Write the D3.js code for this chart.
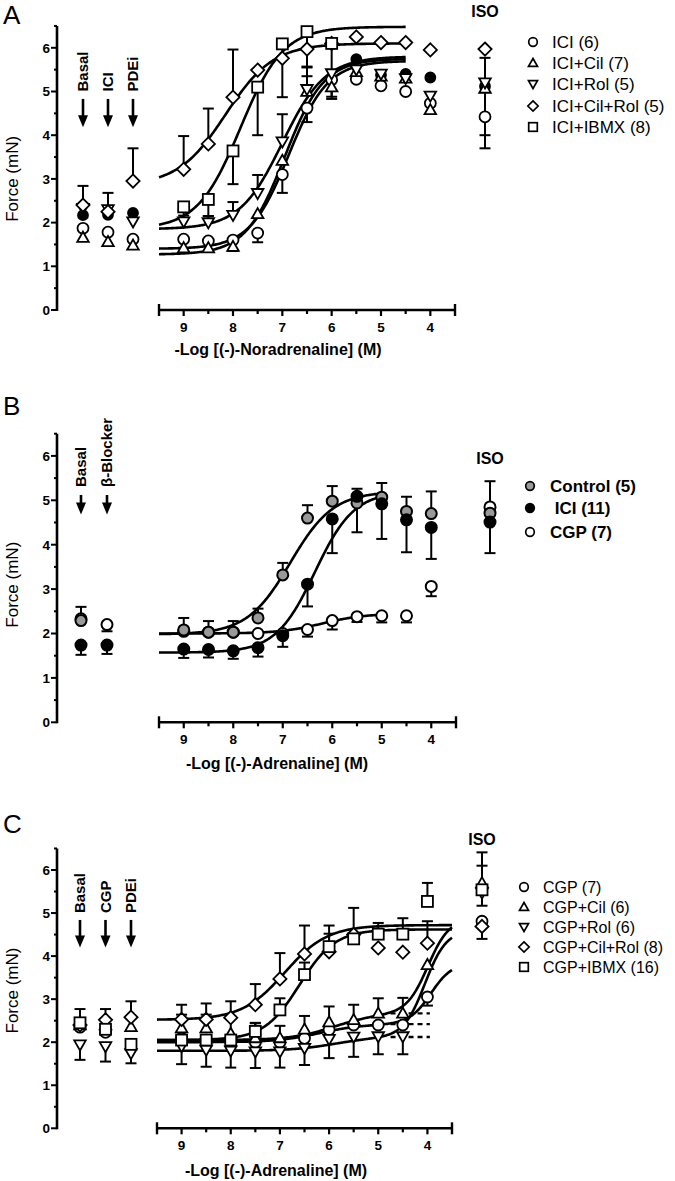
<!DOCTYPE html>
<html><head><meta charset="utf-8">
<script src="https://cdn.jsdelivr.net/npm/d3@7"></script>
<style>body{margin:0;background:#fff}svg{font-family:"Liberation Sans",Arial,sans-serif}</style>
</head><body><svg id="fig" width="675" height="1181"></svg>
<script>
// ---------- shared axis data ----------
const doses = [9, 8.5, 8, 7.5, 7, 6.5, 6, 5.5, 5, 4.5, 4];
const xTickValues = [9, 8, 7, 6, 5, 4];
const xMinorValues = [8.5, 7.5, 6.5, 5.5, 4.5];
const yTickValues = [0, 1, 2, 3, 4, 5, 6];
const yMinorValues = [0.5, 1.5, 2.5, 3.5, 4.5, 5.5, 6.5];
const isoLabel = "ISO";
const yTitle = "Force (mN)";

// ---------- Panel A ----------
const A_pre = ["Basal", "ICI", "PDEi"];
const A_title = "-Log [(-)-Noradrenaline] (M)";
const A_names = ["ICI (6)", "ICI+Cil (7)", "ICI+Rol (5)", "ICI+Cil+Rol (5)", "ICI+IBMX (8)"];
// order: Basal, ICI, PDEi, 9 ... 4, ISO
const A_ICI_vals    = [1.87, 1.78, 1.62, 1.62, 1.58, 1.60, 1.76, 3.10, 4.62, 5.27, 5.28, 5.13, 5.00, 4.73, 4.42];
const A_ICI_err     = [0, 0, 0, 0, 0, 0, -0.21, -0.42, -0.32, -0.44, 0, 0, 0, 0, -0.72];
const A_ICI_fit     = [1.40, 5.70, 6.87, 1.1];
const A_Cil_vals    = [1.66, 1.56, 1.48, 1.42, 1.42, 1.45, 2.20, 3.42, 5.00, 5.10, 5.45, 5.35, 5.30, 4.58, 5.07];
const A_Cil_err     = [0, 0, 0, 0, 0, -0.1, 0, 0, 0.35, 0, 0, 0, 0, 0, [0.7, 0.7]];
const A_Cil_fit     = [1.27, 5.75, 6.95, 1.1];
const A_Rol_vals    = [2.33, 2.30, 2.02, 2.02, 2.00, 2.17, 2.67, 3.85, 5.05, 5.41, 5.50, 5.40, 5.30, 4.90, 5.20];
const A_Rol_err     = [0, 0, 0, 0, 0.15, 0.30, 0.42, 0.63, 0.50, 0, 0, 0, 0, 0, -1.2];
const A_Rol_fit     = [1.85, 5.80, 7.0, 1.0];
const A_CilRol_vals = [2.40, 2.25, 2.95, 3.22, 3.80, 4.87, 5.49, 5.76, 5.97, 6.10, 6.25, 6.12, 6.12, 5.95, 5.97];
const A_CilRol_err  = [0.44, 0.43, 0.75, 0.76, 0.81, 1.09, 0, 0, 0, -1.22, 0, 0, 0, 0, 0];
const A_CilRol_fit  = [2.85, 6.10, 8.15, 0.9];
const A_IBMX_vals   = [null, null, null, 2.36, 2.53, 3.64, 5.10, 6.09, 6.37, 6.10, null, null, null, null, null];
const A_IBMX_err    = [0, 0, 0, -0.2, -0.38, -0.76, -1.1, -1.22, -0.8, 0, 0, 0, 0, 0, 0];
const A_IBMX_fit    = [1.85, 6.48, 7.85, 1.0];
const A_filled_vals = [2.17, 2.18, 2.22, null, null, null, null, null, null, null, 5.74, 5.38, 5.40, 5.32, 5.12];

// ---------- Panel B ----------
const B_pre = ["Basal", "β-Blocker"];
const B_title = "-Log [(-)-Adrenaline] (M)";
const B_names = ["Control (5)", " ICI (11)", "CGP (7)"];
const B_Control_vals = [2.29, null, 2.08, 2.03, 2.03, 2.35, 3.32, 4.60, 4.98, 4.94, 5.07, 4.75, 4.70, 4.71];
const B_Control_err  = [0.31, 0, 0.27, 0.25, 0.25, 0.21, 0.27, 0.29, 0.34, 0.32, 0.32, 0.33, 0.50, 0.72];
const B_Control_fit  = [1.98, 5.20, 6.85, 1.0];
const B_ICI_vals = [1.74, 1.74, 1.65, 1.64, 1.61, 1.68, 1.95, 3.11, 4.58, 5.09, 4.92, 4.56, 4.39, 4.51];
const B_ICI_err  = [-0.22, -0.2, -0.2, -0.18, -0.18, -0.2, -0.25, -0.5, -0.77, -0.81, -0.79, -0.73, -0.71, -0.7];
const B_ICI_fit  = [1.57, 5.20, 6.35, 1.1];
const B_CGP_vals = [2.33, 2.20, 2.05, 2.03, 2.03, 2.00, 2.00, 2.09, 2.29, 2.38, 2.40, 2.40, 3.06, 4.85];
const B_CGP_err  = [0, -0.15, 0, 0, 0, 0, 0, -0.16, -0.2, -0.12, -0.15, -0.15, -0.22, 0];
const B_CGP_fit  = [2.0, 2.45, 6.2, 1.0];

// ---------- Panel C ----------
const C_pre = ["Basal", "CGP", "PDEi"];
const C_title = "-Log [(-)-Adrenaline] (M)";
const C_names = ["CGP (7)", "CGP+Cil (6)", "CGP+Rol (6)", "CGP+Cil+Rol (8)", "CGP+IBMX (16)"];
const C_CGP_vals    = [2.35, 2.23, null, 2.09, 2.05, 2.02, 2.00, 2.00, 2.09, 2.29, 2.40, 2.40, 2.40, 3.05, 4.81];
const C_CGP_err     = [0, 0, 0, 0, 0, 0, 0, 0, 0, 0, 0, 0, 0, -0.2, -0.41];
const C_CGP_fit     = [2.0, 2.42, 6.2, 1.0, 1.43, 3.93, 2.0];
const C_Cil_vals    = [2.40, 2.40, 2.36, 2.33, 2.33, 2.20, 2.10, 2.10, 2.30, 2.47, 2.52, 2.67, 2.67, 3.80, 5.70];
const C_Cil_err     = [0, 0, 0, 0.31, 0.31, 0.4, 0.34, 0.28, 0.31, 0.36, 0.35, 0.35, 0.36, 0, 0.71];
const C_Cil_fit     = [2.05, 2.67, 5.9, 1.0, 2.21, 3.99, 2.0];
const C_Rol_vals    = [1.94, 1.90, 1.74, 1.90, 1.82, 1.80, 1.78, 1.78, 1.86, 2.07, 2.12, 2.13, 2.13, null, 5.47];
const C_Rol_err     = [-0.35, -0.35, -0.23, -0.41, -0.39, -0.39, -0.38, -0.37, -0.39, -0.44, -0.46, -0.41, -0.41, 0, -0.3];
const C_Rol_fit     = [1.8, 2.12, 5.9, 1.0, 2.49, 4.05, 2.0];
const C_CilRol_vals = [2.40, 2.52, 2.58, 2.53, 2.53, 2.57, 2.87, 3.47, 4.05, 4.10, 4.50, 4.19, 4.09, 4.30, 4.69];
const C_CilRol_err  = [0.37, 0.25, 0.37, 0.34, 0.37, 0.38, 0.48, 0.6, 0.66, 0.61, 0.62, 0, 0, 0.51, 0];
const C_CilRol_fit  = [2.52, 4.72, 6.9, 1.0];
const C_IBMX_vals   = [2.45, 2.30, 1.95, 2.05, 2.05, 2.05, 2.25, 2.75, 3.57, 4.22, 4.40, 4.51, 4.51, 5.27, 5.54];
const C_IBMX_err    = [0, 0, 0, 0, 0, 0, 0.2, 0.27, 0.28, 0.3, 0, 0.26, 0.37, 0.43, 0.56];
const C_IBMX_fit    = [2.05, 4.62, 6.6, 1.2];
const C_dashRange   = [4.75, 3.95];

// ---------- drawing ----------
const svg = d3.select("#fig");

function sigmoid(f, x) {
  let v = f[0] + (f[1] - f[0]) / (1 + Math.pow(10, f[3] * (x - f[2])));
  if (f.length > 4) v += f[4] / (1 + Math.pow(10, f[6] * (x - f[5])));
  return v;
}

function marker(g, type, cx, cy, s, fill, sw) {
  let el;
  if (type === "circle") {
    el = g.append("circle").attr("cx", cx).attr("cy", cy).attr("r", s);
  } else if (type === "square") {
    el = g.append("rect").attr("x", cx - s).attr("y", cy - s).attr("width", 2 * s).attr("height", 2 * s);
  } else if (type === "diamond") {
    const d = s * 1.2;
    el = g.append("path").attr("d", `M${cx},${cy - d}L${cx + d},${cy}L${cx},${cy + d}L${cx - d},${cy}Z`);
  } else if (type === "up") {
    const a = s * 1.05;
    el = g.append("path").attr("d", `M${cx},${cy - a}L${cx + a},${cy + a * 0.75}L${cx - a},${cy + a * 0.75}Z`);
  } else if (type === "down") {
    const a = s * 1.05;
    el = g.append("path").attr("d", `M${cx},${cy + a}L${cx + a},${cy - a * 0.75}L${cx - a},${cy - a * 0.75}Z`);
  }
  el.attr("fill", fill).attr("stroke", "#000").attr("stroke-width", sw);
}

function drawPanel(cfg) {
  const g = svg.append("g");
  const y = d3.scaleLinear().domain([0, 6.5]).range([cfg.y0, cfg.y0 - 6.5 * cfg.k]);
  const x = d3.scaleLinear().domain([9.5, 3.5]).range(cfg.xr);
  const xp = d3.scalePoint().domain(cfg.pre).range(cfg.preX);
  const cats = cfg.pre.concat(doses).concat([isoLabel]);
  const xc = (c, i) => i < cfg.pre.length ? xp(c) : (c === isoLabel ? cfg.isoX : x(c));

  // panel letter
  g.append("text").attr("x", cfg.letterPos[0]).attr("y", cfg.letterPos[1])
    .attr("font-size", 26).text(cfg.letter);

  // y axis
  const ya = g.append("g");
  ya.append("line").attr("x1", cfg.yAxisX).attr("x2", cfg.yAxisX)
    .attr("y1", y(0) + 1).attr("y2", y(6.5)).attr("stroke", "#000").attr("stroke-width", 2.6);
  yTickValues.forEach(t => {
    ya.append("line").attr("x1", cfg.yAxisX - 6).attr("x2", cfg.yAxisX)
      .attr("y1", y(t)).attr("y2", y(t)).attr("stroke", "#000").attr("stroke-width", 2);
    ya.append("text").attr("x", cfg.yAxisX - 7).attr("y", y(t)).attr("dy", "0.36em")
      .attr("text-anchor", "end").attr("font-size", 13.5).attr("font-weight", "bold").text(t);
  });
  yMinorValues.forEach(t => {
    ya.append("line").attr("x1", cfg.yAxisX - 3).attr("x2", cfg.yAxisX)
      .attr("y1", y(t)).attr("y2", y(t)).attr("stroke", "#000").attr("stroke-width", 2);
  });
  g.append("text").attr("transform", `translate(${cfg.yTitleX},${y(cfg.yTitleAt)}) rotate(-90)`)
    .attr("text-anchor", "middle").attr("font-size", 17).text(yTitle);

  // x axis
  const xa = g.append("g");
  xa.append("line").attr("x1", x(9.5)).attr("x2", x(3.5)).attr("y1", y(0)).attr("y2", y(0))
    .attr("stroke", "#000").attr("stroke-width", 2.6);
  [9.5, 3.5].forEach(t => xa.append("line").attr("x1", x(t)).attr("x2", x(t))
    .attr("y1", y(0) - 6).attr("y2", y(0) + 6).attr("stroke", "#000").attr("stroke-width", 2.4));
  xTickValues.forEach(t => {
    xa.append("line").attr("x1", x(t)).attr("x2", x(t)).attr("y1", y(0)).attr("y2", y(0) + 6)
      .attr("stroke", "#000").attr("stroke-width", 2.2);
    xa.append("text").attr("x", x(t)).attr("y", y(0) + 22).attr("text-anchor", "middle")
      .attr("font-size", 13.5).attr("font-weight", "bold").text(t);
  });
  xMinorValues.forEach(t => xa.append("line").attr("x1", x(t)).attr("x2", x(t))
    .attr("y1", y(0)).attr("y2", y(0) + 4).attr("stroke", "#000").attr("stroke-width", 2.2));
  g.append("text").attr("x", cfg.titleX).attr("y", y(0) + cfg.titleDy).attr("text-anchor", "middle")
    .attr("font-size", 16).attr("font-weight", "bold").text(cfg.title);

  // annotations: rotated labels + arrows
  cfg.pre.forEach(p => {
    const cx = xp(p);
    g.append("text").attr("transform", `translate(${cx + 5},${y(cfg.ann[0])}) rotate(-90)`)
      .attr("font-size", 15).attr("font-weight", "bold").text(p);
    const yb = y(cfg.ann[2]);
    g.append("line").attr("x1", cx).attr("x2", cx).attr("y1", y(cfg.ann[1])).attr("y2", yb - 10)
      .attr("stroke", "#000").attr("stroke-width", 2.6);
    g.append("path").attr("d", `M${cx - 5},${yb - 12}L${cx + 5},${yb - 12}L${cx},${yb}Z`).attr("fill", "#000");
  });
  g.append("text").attr("x", cfg.isoX).attr("y", cfg.isoLabelY).attr("text-anchor", "middle")
    .attr("font-size", 16).attr("font-weight", "bold").text(isoLabel);

  // error bars
  const eb = g.append("g").attr("stroke", "#000").attr("stroke-width", 2);
  cfg.series.forEach(s => {
    if (!s.err) return;
    s.vals.forEach((v, i) => {
      const e = s.err[i];
      if (v == null || !e) return;
      const cx = xc(cats[i], i);
      const parts = Array.isArray(e) ? [-e[0], e[1]] : [e];
      parts.forEach(d => {
        eb.append("line").attr("x1", cx).attr("x2", cx).attr("y1", y(v)).attr("y2", y(v + d));
        eb.append("line").attr("x1", cx - 5.5).attr("x2", cx + 5.5).attr("y1", y(v + d)).attr("y2", y(v + d));
      });
    });
  });

  // fitted curves
  const line = d3.line().x(d => x(d[0])).y(d => y(d[1]));
  cfg.series.forEach(s => {
    if (!s.fit) return;
    const pts = d3.range(cfg.fitFrom, cfg.fitTo - 0.001, -0.02).concat([cfg.fitTo]).map(t => [t, sigmoid(s.fit, t)]);
    g.append("path").attr("d", line(pts)).attr("fill", "none").attr("stroke", "#000").attr("stroke-width", 2.6);
    if (s.dash) {
      g.append("line").attr("x1", x(s.dash[0])).attr("x2", x(s.dash[1]))
        .attr("y1", y(s.fit[1])).attr("y2", y(s.fit[1]))
        .attr("stroke", "#000").attr("stroke-width", 2.4).attr("stroke-dasharray", "5,4");
    }
  });

  // markers
  cfg.series.forEach(s => {
    s.vals.forEach((v, i) => {
      if (v == null) return;
      marker(g, s.type, xc(cats[i], i), y(v), s.size || 5.5, s.fill, s.sw || 1.8);
    });
  });

  // legend
  const named = cfg.series.filter(s => s.name).sort((a, b) => a.legendIdx - b.legendIdx);
  named.forEach((s, i) => {
    const ly = cfg.legendY[i];
    marker(g, s.type, cfg.legendX, ly, 4.3, s.fill, 1.7);
    g.append("text").attr("x", cfg.legendX + cfg.legendGap).attr("y", ly).attr("dy", "0.36em")
      .attr("font-size", cfg.legendFont).attr("font-weight", cfg.legendWeight)
      .style("white-space", "pre").text(s.name);
  });
}

drawPanel({
  letter: "A", letterPos: [3, 24], y0: 310, k: 43.7, xr: [159, 455], yAxisX: 57,
  pre: A_pre, preX: [83, 133], isoX: 485, isoLabelY: 17, title: A_title, titleX: 278, titleDy: 45,
  yTitleX: 18, yTitleAt: 3.0, ann: [5.0, 4.83, 4.18], fitFrom: 9.5, fitTo: 4.5,
  legendX: 533, legendGap: 19, legendY: [42, 63, 84, 106, 127], legendFont: 17, legendWeight: "normal",
  series: [
    { type: "circle", fill: "#000", vals: A_filled_vals, size: 5 },
    { name: A_names[0], legendIdx: 0, type: "circle", fill: "#fff", vals: A_ICI_vals, err: A_ICI_err, fit: A_ICI_fit },
    { name: A_names[1], legendIdx: 1, type: "up", fill: "#fff", vals: A_Cil_vals, err: A_Cil_err, fit: A_Cil_fit },
    { name: A_names[2], legendIdx: 2, type: "down", fill: "#fff", vals: A_Rol_vals, err: A_Rol_err, fit: A_Rol_fit },
    { name: A_names[3], legendIdx: 3, type: "diamond", fill: "#fff", vals: A_CilRol_vals, err: A_CilRol_err, fit: A_CilRol_fit },
    { name: A_names[4], legendIdx: 4, type: "square", fill: "#fff", vals: A_IBMX_vals, err: A_IBMX_err, fit: A_IBMX_fit }
  ]
});

drawPanel({
  letter: "B", letterPos: [3, 415], y0: 722.3, k: 44.4, xr: [159, 456], yAxisX: 57,
  pre: B_pre, preX: [81, 107], isoX: 490, isoLabelY: 464, title: B_title, titleX: 277, titleDy: 47,
  yTitleX: 18, yTitleAt: 3.1, ann: [5.3, 5.12, 4.68], fitFrom: 9.5, fitTo: 5,
  legendX: 530, legendGap: 20, legendY: [486, 508, 532], legendFont: 17, legendWeight: "bold",
  series: [
    { name: B_names[2], legendIdx: 2, type: "circle", fill: "#fff", vals: B_CGP_vals, err: B_CGP_err, fit: B_CGP_fit, sw: 2 },
    { name: B_names[0], legendIdx: 0, type: "circle", fill: "#999", vals: B_Control_vals, err: B_Control_err, fit: B_Control_fit, sw: 2 },
    { name: B_names[1], legendIdx: 1, type: "circle", fill: "#000", vals: B_ICI_vals, err: B_ICI_err, fit: B_ICI_fit, sw: 2 }
  ]
});

drawPanel({
  letter: "C", letterPos: [3, 833], y0: 1128.3, k: 43.05, xr: [157, 452], yAxisX: 57,
  pre: C_pre, preX: [80, 131], isoX: 482, isoLabelY: 845, title: C_title, titleX: 276, titleDy: 48,
  yTitleX: 18, yTitleAt: 3.2, ann: [5.0, 4.84, 4.2], fitFrom: 9.5, fitTo: 3.5,
  legendX: 524, legendGap: 19, legendY: [887, 907, 927, 947, 967], legendFont: 16, legendWeight: "normal",
  series: [
    { name: C_names[0], legendIdx: 0, type: "circle", fill: "#fff", vals: C_CGP_vals, err: C_CGP_err, fit: C_CGP_fit, dash: C_dashRange },
    { name: C_names[1], legendIdx: 1, type: "up", fill: "#fff", vals: C_Cil_vals, err: C_Cil_err, fit: C_Cil_fit, dash: C_dashRange },
    { name: C_names[2], legendIdx: 2, type: "down", fill: "#fff", vals: C_Rol_vals, err: C_Rol_err, fit: C_Rol_fit, dash: C_dashRange },
    { name: C_names[3], legendIdx: 3, type: "diamond", fill: "#fff", vals: C_CilRol_vals, err: C_CilRol_err, fit: C_CilRol_fit },
    { name: C_names[4], legendIdx: 4, type: "square", fill: "#fff", vals: C_IBMX_vals, err: C_IBMX_err, fit: C_IBMX_fit }
  ]
});
</script></body></html>
